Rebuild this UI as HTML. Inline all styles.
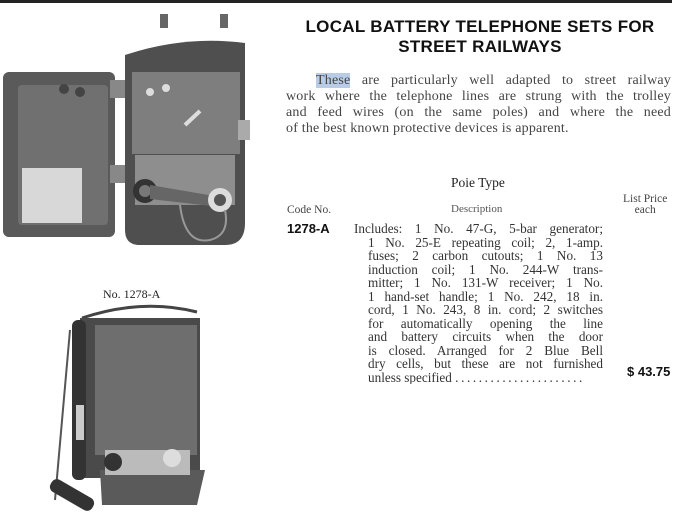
<!DOCTYPE html>
<html><head><meta charset="utf-8"><style>
body{margin:0;width:700px;height:528px;background:#fff;position:relative;overflow:hidden;font-family:"Liberation Serif",serif;color:#222}
.a{position:absolute;white-space:nowrap}
.j{position:absolute;text-align:justify;text-align-last:justify;white-space:nowrap}
.t{font-family:"Liberation Sans",sans-serif;font-weight:bold;font-size:17px;color:#111;letter-spacing:0.3px}
.p{font-size:14px;color:#444;letter-spacing:0.2px}
.d{font-size:13.2px;color:#333;line-height:13.4px}
</style></head><body>
<div style="position:absolute;left:0;top:0;width:672px;height:3px;background:#222"></div>

<svg class="a" style="left:0;top:0" width="280" height="528">
<g>
<rect x="3" y="72" width="112" height="165" rx="6" fill="#5a5a5a"/>
<rect x="18" y="85" width="90" height="140" rx="4" fill="#707070"/>
<rect x="22" y="168" width="60" height="55" fill="#d8d8d8"/>
<circle cx="64" cy="89" r="5" fill="#444"/><circle cx="80" cy="92" r="5" fill="#444"/>
<rect x="110" y="80" width="15" height="18" fill="#888"/><rect x="110" y="165" width="15" height="18" fill="#888"/>
<path d="M160 28 v-14 h8 v14z M220 28 v-14 h8 v14z" fill="#666"/>
<path d="M125 55 q60 -20 120 -12 v180 q0 22 -20 22 h-85 q-15 0 -15 -15z" fill="#4f4f4f"/>
<rect x="132" y="72" width="108" height="82" fill="#7e7e7e"/>
<rect x="135" y="155" width="100" height="50" fill="#8e8e8e"/>
<circle cx="145" cy="191" r="12" fill="#333"/><circle cx="145" cy="191" r="6" fill="#777"/>
<path d="M150 185 l70 12 v10 l-70 -8z" fill="#666"/>
<circle cx="220" cy="200" r="12" fill="#ddd"/><circle cx="220" cy="200" r="6" fill="#555"/>
<path d="M180 205 q5 40 30 35 q20 -5 15 -30" fill="none" stroke="#999" stroke-width="2"/>
<path d="M185 125 l15 -14" stroke="#ddd" stroke-width="4"/>
<circle cx="150" cy="92" r="4" fill="#ddd"/><circle cx="166" cy="88" r="4" fill="#ddd"/>
<rect x="238" y="120" width="12" height="20" fill="#aaa"/>
</g>
<g>
<path d="M82 318 q60 -20 115 -6" fill="none" stroke="#444" stroke-width="3"/>
<rect x="80" y="318" width="120" height="160" fill="#4a4a4a"/>
<rect x="95" y="325" width="102" height="130" fill="#6e6e6e"/>
<rect x="72" y="320" width="14" height="160" rx="6" fill="#333"/>
<rect x="76" y="405" width="8" height="35" fill="#ccc"/>
<path d="M100 470 h105 l-8 35 h-95z" fill="#5a5a5a"/>
<rect x="105" y="450" width="85" height="25" fill="#bbb"/>
<circle cx="113" cy="462" r="9" fill="#333"/><circle cx="172" cy="458" r="9" fill="#ddd"/>
<path d="M70 330 l-15 170" stroke="#555" stroke-width="2"/>
<rect x="48" y="488" width="48" height="14" rx="6" transform="rotate(30 72 495)" fill="#333"/>
</g>
</svg>
<div class="a" style="left:103px;top:287px;font-size:12px;color:#222">No. 1278-A</div>

<div class="a t" style="left:292px;top:17px;width:376px;text-align:center">LOCAL BATTERY TELEPHONE SETS FOR</div>
<div class="a t" style="left:292px;top:37px;width:376px;text-align:center">STREET RAILWAYS</div>

<div class="j p" style="left:316px;top:73px;width:355px"><span style="background:#b8cce8">These</span> are particularly well adapted to street railway</div>
<div class="j p" style="left:286px;top:89px;width:385px">work where the telephone lines are strung with the trolley</div>
<div class="j p" style="left:286px;top:105px;width:385px">and feed wires (on the same poles) and where the need</div>
<div class="a p" style="left:286px;top:121px">of the best known protective devices is apparent.</div>

<div class="a" style="left:451px;top:175px;font-size:13.5px">Poie Type</div>
<div class="a" style="left:287px;top:204px;font-size:11.5px;color:#444">Code No.</div>
<div class="a" style="left:451px;top:203px;font-size:11px;color:#555">Description</div>
<div class="a" style="left:623px;top:194px;font-size:11.5px;color:#444;text-align:center;line-height:11px">List Price<br>each</div>
<div class="a" style="left:287px;top:221px;font-family:'Liberation Sans',sans-serif;font-weight:bold;font-size:13px;color:#111">1278-A</div>
<div class="a" style="left:627px;top:364px;font-family:'Liberation Sans',sans-serif;font-weight:bold;font-size:13px;color:#111">$ 43.75</div>

<div class="j d" style="left:354px;top:222px;width:249px">Includes: 1 No. 47-G, 5-bar generator;</div>
<div class="j d" style="left:368px;top:235.5px;width:235px">1 No. 25-E repeating coil; 2, 1-amp.</div>
<div class="j d" style="left:368px;top:249px;width:235px">fuses; 2 carbon cutouts; 1 No. 13</div>
<div class="j d" style="left:368px;top:262.5px;width:235px">induction coil; 1 No. 244-W trans-</div>
<div class="j d" style="left:368px;top:276px;width:235px">mitter; 1 No. 131-W receiver; 1 No.</div>
<div class="j d" style="left:368px;top:289.5px;width:235px">1 hand-set handle; 1 No. 242, 18 in.</div>
<div class="j d" style="left:368px;top:303px;width:235px">cord, 1 No. 243, 8 in. cord; 2 switches</div>
<div class="j d" style="left:368px;top:316.5px;width:235px">for automatically opening the line</div>
<div class="j d" style="left:368px;top:330px;width:235px">and battery circuits when the door</div>
<div class="j d" style="left:368px;top:343.5px;width:235px">is closed. Arranged for 2 Blue Bell</div>
<div class="j d" style="left:368px;top:357px;width:235px">dry cells, but these are not furnished</div>
<div class="a d" style="left:368px;top:370.5px;width:235px;overflow:hidden">unless specified <span style="letter-spacing:2.6px">......................</span></div>
</body></html>
